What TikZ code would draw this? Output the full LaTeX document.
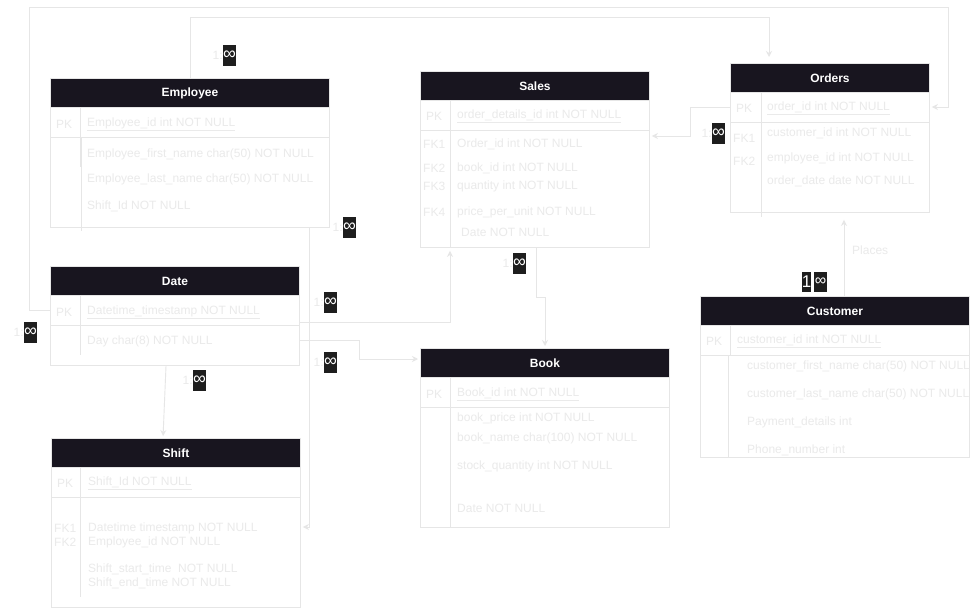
\documentclass[tikz,border=0pt]{standalone}
\usepackage{fontspec}
\setmainfont{Liberation Sans}
\usetikzlibrary{arrows.meta}
\definecolor{hdr}{RGB}{24,21,31}
\definecolor{lnc}{RGB}{230,230,230}
\definecolor{txc}{RGB}{234,234,234}
\definecolor{lblbox}{RGB}{30,30,30}
\tikzset{
  tbl/.style={draw=lnc, line width=0.9pt, anchor=north west, inner sep=0pt, fill=white},
  hdrbox/.style={fill=hdr, draw=lnc, line width=0.9pt, anchor=north west, inner sep=0pt, text=white, font=\bfseries\fontsize{12}{14}\selectfont},
  fld/.style={anchor=west, inner sep=0pt, yshift=-1.5pt, text=txc, font=\fontsize{12}{14}\selectfont},
  rowline/.style={draw=lnc, line width=0.9pt},
  conn/.style={draw=lnc, line width=0.9pt},
  arr/.style={conn, -{Stealth[length=6pt,width=6pt]}},
  mbox/.style={fill=lblbox, text=white, inner sep=0pt, minimum width=13pt, minimum height=21pt, font=\fontsize{18}{18}\selectfont},
  faint/.style={text=txc, inner sep=0pt, font=\fontsize{12}{14}\selectfont},
}
\begin{document}
\begin{tikzpicture}[x=1pt,y=-1pt]
\useasboundingbox[fill=white] (0,0) rectangle (980,608);

% ---------- Employee ----------
\node[tbl, minimum width=279pt, minimum height=149pt] (emp) at (50,78) {};
\node[hdrbox, minimum width=279pt, minimum height=29pt] (emph) at (50,78) {Employee};
\draw[rowline] (50,137) -- (329,137);
\draw[rowline] (80,107) -- (80,167);
\draw[rowline] (81,137) -- (81,231);
\node[fld] (e0) at (56,123) {PK};
\node[fld] (e1) at (87,123) {\underline{Employee\_id int NOT NULL}};
\node[fld] (e2) at (87,153) {Employee\_first\_name char(50) NOT NULL};
\node[fld] (e3) at (87,178) {Employee\_last\_name char(50) NOT NULL};
\node[fld] (e4) at (87,205) {Shift\_Id NOT NULL};

% ---------- Sales ----------
\node[tbl, minimum width=229pt, minimum height=176pt] (sal) at (420,71) {};
\node[hdrbox, minimum width=229pt, minimum height=29pt] (salh) at (420,71) {Sales};
\draw[rowline] (420,130) -- (649,130);
\draw[rowline] (450,100) -- (450,247);
\node[fld] (s0) at (426,115) {PK};
\begin{scope}
\clip (452,100) rectangle (621,130);
\node[fld] (s1) at (457,115) {\underline{order\_details\_id int NOT NULL}};
\end{scope}
\node[fld] (s2k) at (423,143) {FK1};
\node[fld] (s2) at (457,143) {Order\_id int NOT NULL};
\node[fld] (s3k) at (423,167) {FK2};
\node[fld] (s3) at (457,167) {book\_id int NOT NULL};
\node[fld] (s4k) at (423,185) {FK3};
\node[fld] (s4) at (457,185) {quantity int NOT NULL};
\node[fld] (s5k) at (423,211) {FK4};
\node[fld] (s5) at (457,211) {price\_per\_unit NOT NULL};
\node[fld] (s6) at (461,231) {Date NOT NULL};

% ---------- Orders ----------
\node[tbl, minimum width=199pt, minimum height=149pt] (ord) at (730,63) {};
\node[hdrbox, minimum width=199pt, minimum height=29pt] (ordh) at (730,63) {Orders};
\draw[rowline] (730,122) -- (929,122);
\draw[rowline] (761,92) -- (761,217);
\node[fld] (o0) at (736,107) {PK};
\node[fld] (o1) at (767,107) {\underline{order\_id int NOT NULL}};
\node[fld] (o2k) at (733,137) {FK1};
\node[fld] (o2) at (767,132) {customer\_id int NOT NULL};
\node[fld] (o3k) at (733,160) {FK2};
\node[fld] (o3) at (767,157) {employee\_id int NOT NULL};
\node[fld] (o4) at (767,180) {order\_date date NOT NULL};

% ---------- Date ----------
\node[tbl, minimum width=249pt, minimum height=99pt] (dat) at (50,266) {};
\node[hdrbox, minimum width=249pt, minimum height=29pt] (dath) at (50,266) {Date};
\draw[rowline] (50,325) -- (299,325);
\draw[rowline] (80,295) -- (80,355);
\node[fld] (d0) at (56,311) {PK};
\node[fld] (d1) at (87,311) {\underline{Datetime\_timestamp NOT NULL}};
\node[fld] (d2) at (87,340) {Day char(8) NOT NULL};

% ---------- Shift ----------
\node[tbl, minimum width=249pt, minimum height=169pt] (shf) at (51,438) {};
\node[hdrbox, minimum width=249pt, minimum height=29pt] (shfh) at (51,438) {Shift};
\draw[rowline] (51,497) -- (300,497);
\draw[rowline] (80,467) -- (80,597);
\node[fld] (f0) at (57,482) {PK};
\node[fld] (f1) at (88,482) {\underline{Shift\_Id NOT NULL}};
\node[fld] (f2k) at (54,527) {FK1};
\node[fld] (f2) at (88,527) {Datetime timestamp NOT NULL};
\node[fld] (f3k) at (54,541) {FK2};
\node[fld] (f3) at (88,541) {Employee\_id NOT NULL};
\node[fld] (f4) at (88,568) {Shift\_start\_time\ \ NOT NULL};
\node[fld] (f5) at (88,582) {Shift\_end\_time NOT NULL};

% ---------- Book ----------
\node[tbl, minimum width=249pt, minimum height=179pt] (book) at (420,348) {};
\node[hdrbox, minimum width=249pt, minimum height=29pt] (bookh) at (420,348) {Book};
\draw[rowline] (420,407) -- (669,407);
\draw[rowline] (450,377) -- (450,527);
\node[fld] (b0) at (426,393) {PK};
\node[fld] (b1) at (457,393) {\underline{Book\_id int NOT NULL}};
\node[fld] (b2) at (457,417) {book\_price int NOT NULL};
\node[fld] (b3) at (457,437) {book\_name char(100) NOT NULL};
\node[fld] (b4) at (457,465) {stock\_quantity int NOT NULL};
\node[fld] (b5) at (457,507) {Date NOT NULL};

% ---------- Customer ----------
\node[tbl, minimum width=269pt, minimum height=161pt] (cust) at (700,296) {};
\node[hdrbox, minimum width=269pt, minimum height=29pt] (custh) at (700,296) {Customer};
\draw[rowline] (700,355) -- (969,355);
\draw[rowline] (730,325) -- (730,355);
\draw[rowline] (728,355) -- (728,457);
\node[fld] (c0) at (706,340) {PK};
\node[fld] (c1) at (737,340) {\underline{customer\_id int NOT NULL}};
\begin{scope}
\clip (729,356) rectangle (969,456);
\node[fld] (c2) at (747,365) {customer\_first\_name char(50) NOT NULL};
\node[fld] (c3) at (747,393) {customer\_last\_name char(50) NOT NULL};
\node[fld] (c4) at (747,421) {Payment\_details int};
\node[fld] (c5) at (747,449) {Phone\_number int};
\end{scope}

% ---------- Connectors ----------
\draw[arr, shorten >=2pt] (dat.west |- 0,310) -- (29,310) -- (29,7) -- (948,7) -- (948,107) -- (ord.east |- 0,107);
\draw[arr, shorten >=6pt] (emp.north) -- (emp.north |- 0,17) -- (769,17) -- (ord.north -| 769,0);
\draw[arr, shorten >=2pt] (ord.west |- 0,107) -- (690,107) -- (690,136) -- (sal.east |- 0,136);
\draw[arr, shorten >=2pt] (sal.south -| 536,0) -- (536,297) -- (545,297) -- (book.north -| 545,0);
\draw[arr, shorten >=3pt] (dat.east |- 0,322) -- (450,322) -- (sal.south -| 450,0);
\draw[arr, shorten >=2pt] (dat.east |- 0,340) -- (359,340) -- (359,359) -- (book.west |- 0,359);
\draw[arr, shorten >=2pt] (emp.south -| 309,0) -- (309,527) -- (shf.east |- 0,527);
\draw[arr, shorten >=2pt] (dat.south -| 166,0) -- (shf.north -| 163,0);
\draw[arr, shorten >=7pt] (cust.north -| 844,0) -- (ord.south -| 844,0);
\node[faint, anchor=west] (places) at (852,250) {Places};

% ---------- Cardinality labels ----------
\node[mbox] (m1) at (229.5,55.5) {∞};
\node[faint, anchor=east] (m1a) at (m1.west) {1:};
\node[mbox] (m2) at (349.5,227.5) {∞};
\node[faint, anchor=east] (m2a) at (m2.west) {1:};
\node[mbox] (m3) at (30.5,332.5) {∞};
\node[faint, anchor=east] (m3a) at (m3.west) {1:};
\node[mbox] (m4) at (330.5,302.5) {∞};
\node[faint, anchor=east] (m4a) at (m4.west) {1:};
\node[mbox] (m5) at (330.5,362.5) {∞};
\node[faint, anchor=east] (m5a) at (m5.west) {1:};
\node[mbox] (m6) at (199.5,380.5) {∞};
\node[faint, anchor=east] (m6a) at (m6.west) {1:};
\node[mbox] (m7) at (519.5,263.5) {∞};
\node[faint, anchor=east] (m7a) at (m7.west) {1:};
\node[mbox] (m8) at (718.5,133.5) {∞};
\node[faint, anchor=east] (m8a) at (m8.west) {1:};
\node[mbox, minimum width=9pt, minimum height=20pt, font=\fontsize{17}{17}\selectfont] (k1) at (806.5,282) {1};
\node[mbox, minimum height=20pt, font=\fontsize{16}{16}\selectfont] (k2) at (820.5,282) {∞};
\end{tikzpicture}
\end{document}
